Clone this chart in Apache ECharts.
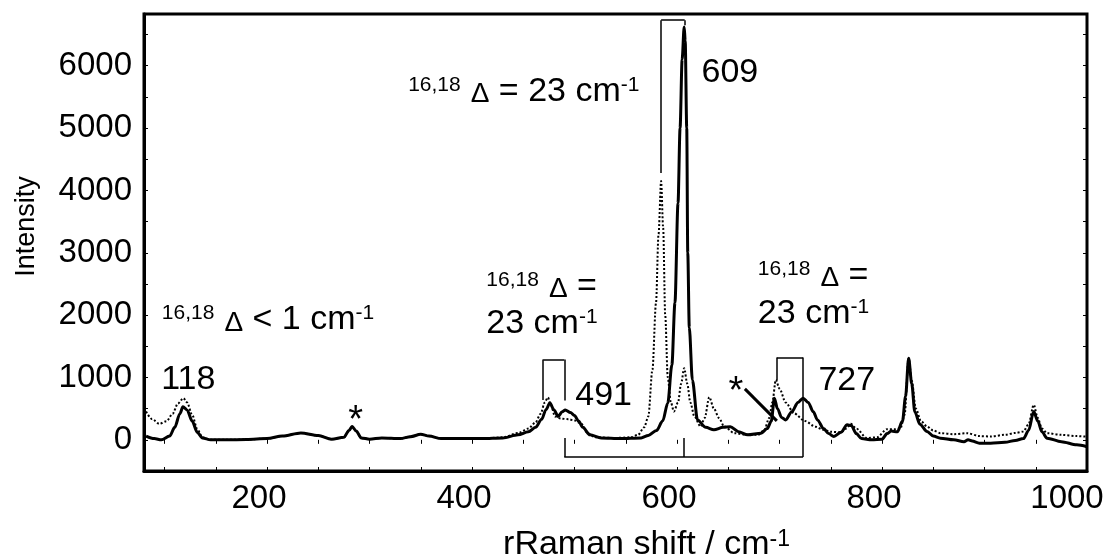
<!DOCTYPE html>
<html>
<head>
<meta charset="utf-8">
<script src="https://cdn.jsdelivr.net/npm/echarts@6/dist/echarts.min.js"></script>
<style>
html, body { margin: 0; background: #fff; }
#main { width: 1105px; height: 555px; }
</style>
</head>
<body>
<div id="main"></div>
<script>
// 16O sample (solid line)
var shiftSolid = [82, 90, 97, 105, 110, 115, 118, 122, 127, 132, 137, 145, 160, 180, 200, 215, 233, 250, 263, 275, 280, 283, 287, 292, 300,
	312, 330, 340, 350, 358, 370, 390, 410, 430, 445, 455, 462, 468, 472, 476, 480, 484, 488, 491, 496, 500, 504, 508, 515, 526,
	545, 565, 572, 580, 586, 591, 595, 598, 601, 603, 605, 607, 608, 609.5, 610.5, 612, 615, 620, 628, 636, 645, 652, 660, 669,
	682, 688, 692, 695, 698, 702, 706, 712, 718, 723, 728, 733, 737, 743, 748, 753, 760, 766, 770, 775, 780, 790, 800, 805, 809,
	815, 820, 823, 826, 829, 832, 837, 844, 850, 857, 870, 880, 884, 888, 895, 906, 920, 930, 938, 943, 948, 952, 956, 961, 975, 990, 1000];
var intensitySolid = [60, 20, 0, 60, 200, 420, 530, 480, 300, 120, 30, 0, 0, 5, 20, 60, 110, 70, 10, 40, 150, 213, 140, 30, 10,
	30, 20, 50, 90, 60, 20, 20, 20, 30, 80, 130, 200, 330, 480, 590, 480, 375, 450, 480, 440, 390, 300, 200, 80, 30,
	20, 30, 70, 150, 300, 590, 1200, 2200, 3800, 5000, 6100, 6620, 6400, 5000, 3000, 1800, 960, 320, 200, 160, 200, 210, 130, 80,
	107, 180, 300, 668, 500, 360, 320, 450, 600, 668, 600, 450, 320, 180, 100, 53, 120, 240, 230, 100, 20, 0, 10, 100, 140,
	130, 300, 700, 1310, 900, 450, 250, 133, 60, 27, 0, -30, 0, -20, -53, -53, -40, -10, 20, 150, 454, 300, 130, 27, -30, -80, -110];

// 18O sample (dotted line)
var shiftDotted = [82, 88, 95, 102, 108, 113, 118.5, 122, 127, 132, 137, 145, 160, 180, 200, 215, 233, 250, 263, 275, 280, 283, 287, 292, 300,
	312, 330, 340, 350, 358, 370, 390, 410, 430, 445, 455, 462, 467, 471, 474, 477, 481, 487, 494, 500, 506, 513, 520, 540, 555,
	562, 568, 572, 576, 579.5, 582, 584.5, 586.5, 588.5, 591, 594, 597, 601, 604, 607, 610, 613, 617, 623, 627, 631.5, 636, 641,
	646, 656, 668, 679, 685, 690, 693, 696.4, 700, 706, 714, 725, 735, 743, 750, 760, 765, 769.5, 775, 785, 795, 805, 812, 818,
	822, 826, 829, 833, 838, 844, 850, 857, 870, 883, 895, 906, 920, 930, 938, 943, 948, 952, 956, 961, 975, 990, 1000];
var intensityDotted = [454, 330, 256, 300, 420, 580, 668, 600, 400, 170, 40, 0, 0, 5, 20, 60, 110, 70, 10, 40, 150, 213, 140, 30, 10,
	30, 20, 50, 90, 60, 20, 20, 20, 40, 110, 180, 280, 420, 600, 680, 560, 374, 340, 331, 310, 267, 107, 40, 30, 40,
	80, 200, 374, 1122, 2190, 3300, 4150, 3400, 2000, 1000, 600, 454, 600, 900, 1150, 900, 600, 374, 213, 350, 684, 500, 350,
	213, 107, 80, 80, 150, 350, 600, 962, 820, 600, 427, 300, 210, 160, 130, 118, 180, 256, 180, 30, 40, 171, 170, 180,
	400, 1309, 950, 500, 300, 213, 150, 107, 90, 107, 60, 53, 80, 110, 134, 250, 561, 350, 180, 107, 80, 60, 50];

var xLabels = [200, 400, 600, 800, 1000];
var yLabels = [0, 1000, 2000, 3000, 4000, 5000, 6000];
var xTicks = [];
for (var t = 100; t <= 1000; t += 50) xTicks.push(t);
var yTicks = [];
for (var u = -500; u <= 6500; u += 500) yTicks.push(u);

// annotations: [shift, intensity, text, anchor]
var notes = [
	[123.2, 962, '118', 'c'],
	[97.4, 1923, '{s|16,18}{d|Δ} < 1 cm{s|-1}', 'l'],
	[337.7, 5585, '{s|16,18}{d|Δ} = 23 cm{s|-1}', 'l'],
	[651.6, 5889, '609', 'c'],
	[414, 2460, '{s|16,18}{d|Δ} =', 'l'],
	[414, 1859, '23 cm{s|-1}', 'l'],
	[528.4, 705, '491', 'c'],
	[678.9, 2636, '{s|16,18}{d|Δ} =', 'l'],
	[678.9, 2029, '23 cm{s|-1}', 'l'],
	[765.6, 946, '727', 'c'],
	[286.4, 300, '{a|*}', 'c'],
	[657.5, 760, '{a|*}', 'c']
];

// bracket segments: [x1, y1, x2, y2]
var brackets = [
	[584.5, 4280, 584.5, 6730], [584.5, 6730, 607.5, 6730], [607.5, 6730, 607.5, 6650],
	[469.5, 640, 469.5, 1290], [469.5, 1290, 490, 1290], [490, 1290, 490, 630],
	[697.4, 950, 697.4, 1320], [697.4, 1320, 723, 1320], [723, 1320, 723, -277],
	[490, -277, 723, -277], [490, -277, 490, 30], [606.5, -277, 606.5, 30]
];
var arrow = [666.2, 817, 697.4, 304];

function pairs(xs, ys) {
	return xs.map(function (x, i) { return [x, ys[i]]; });
}

var font = 'Liberation Sans, Arial, sans-serif';
var rich = {
	s: { fontSize: 21, verticalAlign: 'top', fontFamily: font, color: '#000' },
	d: { fontSize: 28, verticalAlign: 'bottom', fontFamily: font, color: '#000', padding: [0, 0, 0, 10] },
	a: { fontSize: 38, fontFamily: font, color: '#000' }
};

var myChart = echarts.init(document.getElementById('main'));

var option = {
	backgroundColor: '#fff',
	animation: false,
	textStyle: { fontFamily: font, color: '#000' },
	grid: {
		left: 144,
		right: 18,
		top: 14,
		bottom: 84,
		show: true,
		borderColor: '#000',
		borderWidth: 3,
		containLabel: false,
		outerBoundsMode: 'none'
	},
	xAxis: [
		{
			type: 'value',
			min: 80,
			max: 1000,
			name: 'rRaman shift / cm{sup|-1}',
			nameLocation: 'middle',
			nameGap: 57,
			nameTextStyle: {
				fontSize: 34,
				color: '#000',
				fontFamily: font,
				padding: [0, 0, 0, 62],
				rich: { sup: { fontSize: 23, verticalAlign: 'top', color: '#000', fontFamily: font } }
			},
			splitLine: { show: false },
			axisLine: { show: true, onZero: false, lineStyle: { color: '#000', width: 3 } },
			axisTick: { show: true, inside: true, length: 4, customValues: xTicks, lineStyle: { color: '#000', width: 1 } },
			axisLabel: {
				color: '#000',
				fontSize: 32,
				margin: 11,
				customValues: xLabels,
				formatter: function (v) {
					return v === 1000 ? '{e|' + v + '}' : '{n|' + v + '}';
				},
				rich: {
					n: { fontSize: 33, fontFamily: font, color: '#000', padding: [0, 16, 0, 0] },
					e: { fontSize: 33, fontFamily: font, color: '#000', padding: [0, 40, 0, 0] }
				}
			}
		},
		{
			type: 'value',
			position: 'top',
			min: 80,
			max: 1000,
			splitLine: { show: false },
			axisLine: { show: false },
			axisLabel: { show: false },
			axisTick: { show: true, inside: true, length: 4, customValues: xTicks, lineStyle: { color: '#000', width: 1 } }
		}
	],
	yAxis: [
		{
			type: 'value',
			min: -500,
			max: 6830,
			name: 'Intensity',
			nameLocation: 'middle',
			nameRotate: 90,
			nameGap: 104,
			nameTextStyle: { fontSize: 27, color: '#000', fontFamily: font, padding: [0, 0, 0, 32] },
			splitLine: { show: false },
			axisLine: { show: true, onZero: false, lineStyle: { color: '#000', width: 3 } },
			axisTick: { show: true, inside: true, length: 4, customValues: yTicks, lineStyle: { color: '#000', width: 1 } },
			axisLabel: {
				color: '#000',
				fontSize: 33,
				margin: 12,
				customValues: yLabels,
				formatter: function (v) { return String(v); }
			}
		},
		{
			type: 'value',
			position: 'right',
			min: -500,
			max: 6830,
			splitLine: { show: false },
			axisLine: { show: false },
			axisLabel: { show: false },
			axisTick: { show: true, inside: true, length: 4, customValues: yTicks, lineStyle: { color: '#000', width: 1 } }
		}
	],
	series: [
		{
			name: '18O',
			type: 'line',
			data: pairs(shiftDotted, intensityDotted),
			showSymbol: false,
			smooth: 0.3,
			smoothMonotone: 'x',
			lineStyle: { color: '#000', width: 2, type: [2, 2] },
			z: 2
		},
		{
			name: '16O',
			type: 'line',
			data: pairs(shiftSolid, intensitySolid),
			showSymbol: false,
			smooth: 0.3,
			smoothMonotone: 'x',
			lineStyle: { color: '#000', width: 3 },
			z: 3,
			markLine: {
				silent: true,
				symbol: ['none', 'none'],
				label: { show: false },
				lineStyle: { color: '#000', width: 1.5, type: 'solid' },
				data: brackets.map(function (b) {
					return [{ coord: [b[0], b[1]] }, { coord: [b[2], b[3]] }];
				}).concat([[
					{ coord: [arrow[0], arrow[1]], lineStyle: { width: 3 } },
					{ coord: [arrow[2], arrow[3]] }
				]])
			},
			markPoint: {
				silent: true,
				symbol: 'circle',
				symbolSize: 0,
				data: notes.map(function (n) {
					return {
						coord: [n[0], n[1]],
						label: {
							show: true,
							position: n[3] === 'l' ? 'right' : 'inside',
							distance: 0,
							formatter: n[2],
							fontSize: 34,
							fontFamily: font,
							color: '#000',
							rich: rich
						}
					};
				})
			}
		}
	]
};

myChart.setOption(option);
</script>
</body>
</html>
